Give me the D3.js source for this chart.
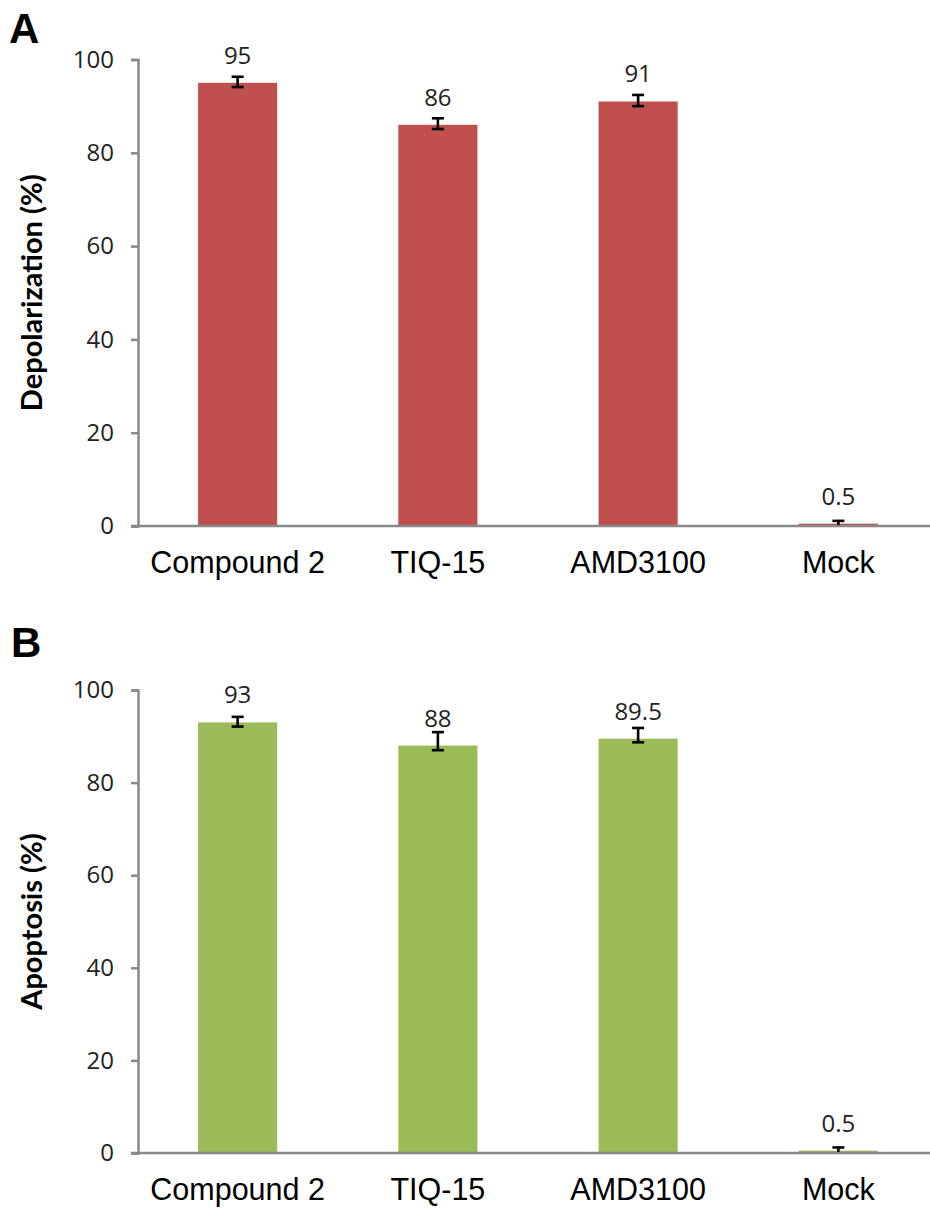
<!DOCTYPE html>
<html>

<head>
    <meta charset="utf-8">
    <style>
        body {
            margin: 0;
            background: #fff;
        }

        svg {
            display: block;
        }

        .y .tick line,
        .y .domain,
        .x .domain {
            stroke: #898989;
            stroke-width: 2.5px;
        }

        .y .tick text {
            font-family: 'Open Sans', sans-serif;
            font-size: 24px;
            fill: #222;
        }

        .x .tick line {
            display: none;
        }

        .x .tick text {
            font-family: 'Liberation Sans', Arial, sans-serif;
            font-size: 30.5px;
            fill: #000;
        }

        .value-label {
            font-family: 'Open Sans', sans-serif;
            font-size: 24px;
            fill: #222;
        }

        .axis-title {
            font-family: Lato, sans-serif;
            font-weight: bold;
            font-size: 29px;
        }

        .panel-letter {
            font-family: 'Liberation Sans', Arial, sans-serif;
            font-weight: bold;
            font-size: 42px;
        }
    </style>
</head>

<body>
    <svg width="930" height="1208"></svg>
</body>

<script src="https://cdnjs.cloudflare.com/ajax/libs/d3/7.8.5/d3.min.js"></script>

<script>
    // data
    let categories = ["Compound 2", "TIQ-15", "AMD3100", "Mock"]
    let yTicks = [0, 20, 40, 60, 80, 100]

    let depolarization = [95, 86, 91, 0.5]
    let depolarizationErrUp = [1.3, 1.4, 1.4, 0.6]
    let depolarizationErrDown = [0.9, 0.9, 1.0, 0.5]
    let depolarizationLabels = ["95", "86", "91", "0.5"]

    let apoptosis = [93, 88, 89.5, 0.5]
    let apoptosisErrUp = [1.2, 2.9, 2.3, 0.7]
    let apoptosisErrDown = [0.9, 1.0, 0.8, 0.5]
    let apoptosisLabels = ["93", "88", "89.5", "0.5"]

    let svg = d3.select("svg")

    let x = d3.scaleBand()
        .domain(categories)
        .range([138, 938])
        .paddingInner(0.605)
        .paddingOuter(0.3)

    function drawPanel(opts) {
        let g = svg.append("g")

        let y = d3.scaleLinear()
            .domain([0, 100])
            .range([opts.bottom, opts.top])

        let rows = categories.map((c, i) => ({
            cat: c,
            value: opts.values[i],
            up: opts.errUp[i],
            down: opts.errDown[i],
            label: opts.labels[i]
        }))

        // bars
        g.selectAll(".bar")
            .data(rows)
            .join("rect")
            .attr("class", "bar")
            .attr("x", d => x(d.cat))
            .attr("width", x.bandwidth())
            .attr("y", d => y(d.value))
            .attr("height", d => y(0) - y(d.value))
            .attr("fill", opts.color)

        // y axis
        g.append("g")
            .attr("class", "y axis")
            .attr("transform", `translate(138,0)`)
            .call(d3.axisLeft(y)
                .tickValues(yTicks)
                .tickSize(7)
                .tickSizeOuter(7)
                .tickPadding(17))

        // x axis
        g.append("g")
            .attr("class", "x axis")
            .attr("transform", `translate(0,${y(0)})`)
            .call(d3.axisBottom(x).tickSize(0).tickSizeOuter(0).tickPadding(25))
        g.select(".x .domain").attr("d", `M131,0H930`)

        // error bars
        let err = g.append("g")
            .attr("stroke", "#000")
            .attr("stroke-width", 2.6)
        rows.forEach(d => {
            let cx = x(d.cat) + x.bandwidth() / 2
            let yTop = y(d.value + d.up)
            let yBot = Math.min(y(d.value - d.down), y(0) - 1)
            err.append("line").attr("x1", cx).attr("x2", cx).attr("y1", yTop).attr("y2", yBot)
            err.append("line").attr("x1", cx - 6).attr("x2", cx + 6).attr("y1", yTop).attr("y2", yTop)
            if (d.value - d.down > 0.3) {
                err.append("line").attr("x1", cx - 6).attr("x2", cx + 6).attr("y1", yBot).attr("y2", yBot)
            }
        })

        // value labels
        g.selectAll(".value-label")
            .data(rows)
            .join("text")
            .attr("class", "value-label")
            .attr("x", d => x(d.cat) + x.bandwidth() / 2)
            .attr("y", d => y(d.value) - 19)
            .attr("text-anchor", "middle")
            .text(d => d.label)

        // axis title
        g.append("text")
            .attr("class", "axis-title")
            .attr("transform", `translate(42,${(opts.top + opts.bottom) / 2}) rotate(-90)`)
            .attr("text-anchor", "middle")
            .text(opts.title)

        // panel letter
        g.append("text")
            .attr("class", "panel-letter")
            .attr("x", opts.letterX)
            .attr("y", opts.letterY)
            .text(opts.letter)
    }

    drawPanel({
        values: depolarization, errUp: depolarizationErrUp, errDown: depolarizationErrDown,
        labels: depolarizationLabels, color: "#c0504d", title: "Depolarization (%)",
        top: 59.5, bottom: 526, letter: "A", letterX: 9, letterY: 43
    })

    drawPanel({
        values: apoptosis, errUp: apoptosisErrUp, errDown: apoptosisErrDown,
        labels: apoptosisLabels, color: "#9bbb59", title: "Apoptosis (%)",
        top: 690, bottom: 1153, letter: "B", letterX: 11, letterY: 657
    })
</script>

</html>
